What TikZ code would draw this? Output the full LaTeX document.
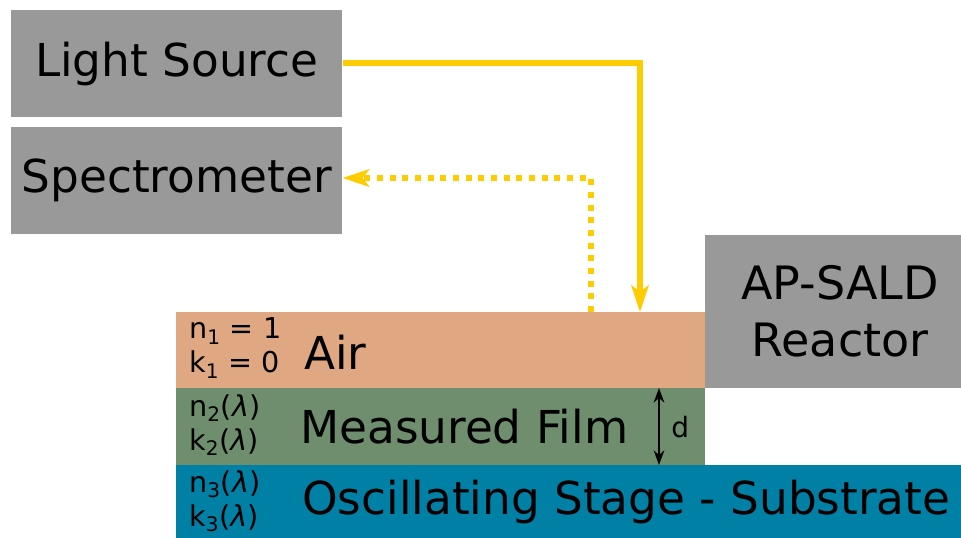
\documentclass[tikz,border=0pt]{standalone}
\usepackage{fontspec}
\setmainfont{DejaVu Sans}
\usetikzlibrary{arrows.meta}
\definecolor{boxgray}{HTML}{999999}
\definecolor{airc}{HTML}{DFA882}
\definecolor{filmc}{HTML}{6E8E6E}
\definecolor{subc}{HTML}{0080A4}
\definecolor{beam}{HTML}{FFCC00}
\newcommand{\lam}{{\itshape λ}}
\begin{document}
\begin{tikzpicture}[x=0.75pt,y=-0.75pt,
  block/.style={fill=boxgray, anchor=north west, inner sep=0pt,
    minimum width=248.25pt, minimum height=80.25pt, font=\fontsize{34}{40}\selectfont},
  layer/.style={anchor=north west, inner sep=0pt, minimum width=396.75pt},
  bigtext/.style={anchor=west, inner sep=0pt, font=\fontsize{34}{40}\selectfont},
  smalltext/.style={anchor=west, inner sep=0pt, align=left, font=\fontsize{21.5}{25.5}\selectfont},
  beamline/.style={draw=beam, line width=4.5pt},
]
\useasboundingbox (0,0) rectangle (961,538);

% source and detector
\node[block] (light) at (11,10) {Light Source};
\node[block] (spec) at (11,127) {Spectrometer};

% layer stack
\node[layer, fill=airc, minimum height=57pt] (air) at (176,312) {};
\node[layer, fill=filmc, minimum height=57.75pt] (film) at (176,388) {};
\node[layer, fill=subc, minimum width=588.75pt, minimum height=54.75pt] (sub) at (176,465) {};

% reactor head
\node[fill=boxgray, anchor=north west, inner sep=0pt, minimum width=192pt,
  minimum height=114.75pt] (reactor) at (705,235) {};
\node[align=center, inner sep=0pt, font=\fontsize{34.5}{43}\selectfont]
  (reactorlbl) at (840,311) {AP-SALD\\Reactor};

% layer labels
\node[smalltext] (airnk) at (189,348) {n\textsubscript{1} = 1\\k\textsubscript{1} = 0};
\node[bigtext] (airlbl) at (304,352) {Air};
\node[smalltext] (filmnk) at (189,425) {n\textsubscript{2}(\lam)\\k\textsubscript{2}(\lam)};
\node[bigtext] (filmlbl) at (300,427) {Measured Film};
\node[smalltext] (subnk) at (189,501) {n\textsubscript{3}(\lam)\\k\textsubscript{3}(\lam)};
\node[bigtext] (sublbl) at (302,502) {Oscillating Stage - Substrate};

% incident beam
\coordinate (hit) at (640,312);
\coordinate (ret) at (591,312);
\draw[beamline, -{Stealth[length=20pt, width=13pt, inset=5pt]}]
  (light.east |- 0,63) -| (hit);
% reflected beam
\draw[beamline, dash pattern=on 4.5pt off 5pt,
  -{Stealth[length=20pt, width=13pt, inset=5pt]}]
  (ret) |- (spec.east |- 0,178);

% film thickness
\coordinate (dtop) at (659,388);
\coordinate (dbot) at (659,465);
\draw[black, line width=1.5pt, {Stealth[length=11pt,width=8pt]}-{Stealth[length=11pt,width=8pt]}] (dtop) -- (dbot);
\node[anchor=west, inner sep=0pt, font=\fontsize{21}{24}\selectfont] (dlbl) at (671,427) {d};
\end{tikzpicture}
\end{document}
